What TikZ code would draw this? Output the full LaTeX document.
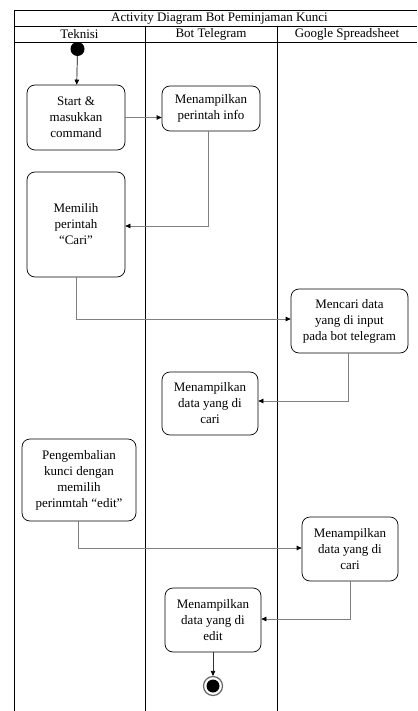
\documentclass[tikz,border=0pt]{standalone}
\usepackage{fontspec}
\setmainfont{Liberation Serif}
\usetikzlibrary{arrows.meta}
\begin{document}
\begin{tikzpicture}[x=1pt,y=-1pt,
  act/.style={draw, line width=0.7pt, rounded corners=8pt, align=center,
    font=\fontsize{13}{16}\selectfont, inner sep=0pt},
  frame/.style={line width=0.7pt},
  flow/.style={draw=gray, line width=0.7pt, -{Triangle[black,length=5pt,width=4.5pt]}},
  hdr/.style={font=\fontsize{13}{15}\selectfont, inner sep=0pt}]
\useasboundingbox (0,0) rectangle (417,711);
% frame
\draw[frame] (14,711) -- (14,10.5) -- (417,10.5);
\draw[frame] (14,26.5) -- (417,26.5);
\draw[frame] (14,42) -- (417,42);
\draw[frame] (145,26.5) -- (145,711);
\draw[frame] (277,26.5) -- (277,711);
\node[hdr] (title) at (219.5,18.5) {Activity Diagram Bot Peminjaman Kunci};
\node[hdr] (h1) at (79.5,34.5) {Teknisi};
\node[hdr] (h2) at (211,34.5) {Bot Telegram};
\node[hdr] (h3) at (347,34.5) {Google Spreadsheet};
% start
\node[circle, fill=black, minimum size=14pt, inner sep=0pt] (start) at (77.5,49) {};
% activities
\node[act, minimum width=98pt, minimum height=65pt] (b1) at (76,117.5) {Start \&\\masukkan\\command};
\node[act, minimum width=98pt, minimum height=45pt] (b2) at (211,108.5) {Menampilkan\\perintah info};
\node[act, minimum width=98pt, minimum height=105pt] (b3) at (76,224.5) {Memilih\\perintah\\“Cari”};
\node[act, minimum width=117pt, minimum height=64pt] (b4) at (349.5,321) {Mencari data\\yang di input\\pada bot telegram};
\node[act, minimum width=96pt, minimum height=63pt] (b5) at (210,403.5) {Menampilkan\\data yang di\\cari};
\node[act, minimum width=114pt, minimum height=82pt] (b6) at (79,480) {Pengembalian\\kunci dengan\\memilih\\perinmtah “edit”};
\node[act, minimum width=96pt, minimum height=64pt] (b7) at (350,549) {Menampilkan\\data yang di\\cari};
\node[act, minimum width=96pt, minimum height=64pt] (b8) at (213,620) {Menampilkan\\data yang di\\edit};
% end
\node[circle, draw=gray!80!black, line width=1.2pt, minimum size=19pt, inner sep=0pt] (endo) at (213,686) {};
\node[circle, fill=black, minimum size=13pt, inner sep=0pt] (endi) at (213,686) {};
% connectors
\draw[flow, draw=black] (start) -- (b1);
\draw[flow] (b1.east) -- (b1.east -| b2.west);
\draw[flow] ([xshift=-3pt]b2.south) |- ([yshift=-1.5pt]b3.east);
\draw[flow] (b3.south) |- ([yshift=2pt]b4.west);
\draw[flow] ([xshift=-1.5pt]b4.south) |- ([yshift=2.5pt]b5.east);
\draw[flow] ([xshift=-1pt]b6.south) |- ([yshift=1pt]b7.west);
\draw[flow] (b7.south) |- ([yshift=1pt]b8.east);
\draw[flow, draw=black!80] (b8.south) -- (endo);
\end{tikzpicture}
\end{document}
